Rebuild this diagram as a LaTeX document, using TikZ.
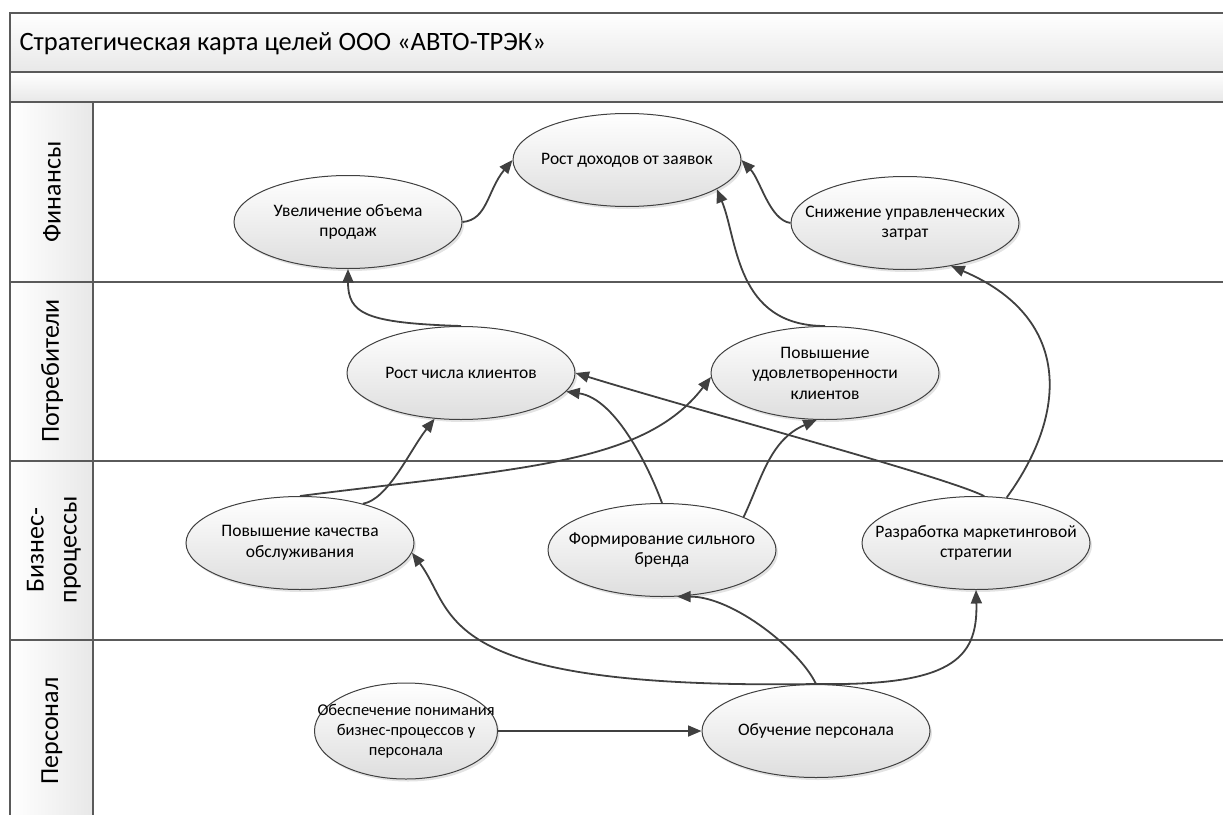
\documentclass[tikz,border=0pt]{standalone}
\usepackage{fontspec}
\setmainfont{Carlito}
\usetikzlibrary{arrows.meta,shapes.geometric,shadows}
\definecolor{framegray}{HTML}{5A5A5A}
\definecolor{edgegray}{HTML}{404040}
\definecolor{bandgray}{HTML}{E8E8E8}
\definecolor{goalgray}{HTML}{DEDEDE}
\tikzset{
  goal/.style={ellipse, draw=edgegray, line width=1pt,
    top color=white, bottom color=goalgray,
    minimum width=228pt, minimum height=93pt,
    inner xsep=-50pt, inner ysep=-10pt, align=center,
    font=\fontsize{17.5}{20.5}\selectfont,
    drop shadow={shadow xshift=2pt, shadow yshift=-2.5pt, opacity=0.22}},
  link/.style={draw=edgegray, line width=1.8pt,
    -{Triangle[length=13.5pt,width=11pt]}},
  lanelabel/.style={rotate=90, align=center,
    font=\fontsize{26}{33}\selectfont},
  frameline/.style={draw=framegray, line width=1.6pt},
}
\begin{document}
\begin{tikzpicture}[x=1pt,y=-1pt]
\useasboundingbox (0,0) rectangle (1223,814);
\clip (0,0) rectangle (1223,814);

% header bands
\shade[top color=white, bottom color=bandgray] (10,13) rectangle (1230,72);
\shade[top color=white, bottom color=bandgray] (10,72) rectangle (1230,102);

% lane header cells
\foreach \ya/\yb in {102/282, 282/461, 461/640, 640/820}
  \shade[left color=white, right color=bandgray] (10,\ya) rectangle (93,\yb);

% frame and lane separators
\draw[frameline] (1230,13) -- (10,13) -- (10,820);
\draw[frameline] (10,72) -- (1230,72);
\draw[frameline] (10,102) -- (1230,102);
\draw[frameline] (93,102) -- (93,820);
\foreach \y in {282,461,640}
  \draw[frameline] (10,\y) -- (1230,\y);

% title and lane names
\node[anchor=west, font=\fontsize{26.5}{31}\selectfont] (title) at (16,44)
  {Стратегическая карта целей ООО «АВТО-ТРЭК»};
\node[lanelabel] (lfin)  at (52,192) {Финансы};
\node[lanelabel] (lcust) at (52,371) {Потребители};
\node[lanelabel] (lproc) at (54,550) {Бизнес-\\процессы};
\node[lanelabel] (lstaff) at (52,731) {Персонал};

% goals
\node[goal] (rev)   at (627,160) {Рост доходов от заявок};
\node[goal] (prod)  at (348,222) {Увеличение объема\\продаж};
\node[goal] (cost)  at (905,223) {Снижение управленческих\\затрат};
\node[goal] (cli)   at (461,373) {Рост числа клиентов};
\node[goal] (sat)   at (825,373) {Повышение\\удовлетворенности\\клиентов};
\node[goal] (qual)  at (300,543) {Повышение качества\\обслуживания};
\node[goal] (brand) at (662,550) {Формирование сильного\\бренда};
\node[goal] (strat) at (976,543) {Разработка маркетинговой\\стратегии};
\node[goal, minimum width=183pt, minimum height=96pt,
      font=\fontsize{16.5}{20}\selectfont] (know) at (406,731)
  {Обеспечение понимания\\бизнес-процессов у\\персонала};
\node[goal] (train) at (816,731) {Обучение персонала};

% cause-and-effect links
\draw[link] (prod.east) .. controls +(25,-2) and +(-25,30) .. (rev.west);
\draw[link] (cost.west) .. controls +(-21,-3) and +(19,20) .. (rev.east);
\draw[link] (sat.north) .. controls +(-90,0) and +(21,50) .. (rev.-18);
\draw[link] (cli.north) .. controls +(-95,-3) and +(0,45) .. (prod.south);
\draw[link] (strat.56) .. controls +(64,-88) and +(118,50) .. (cost.-43);
\draw[link] (strat.80) .. controls +(-40,-20) and +(130,40) .. (cli.east);
\draw[link] (brand.north) .. controls +(-12,-33) and +(50,7) .. (cli.-10);
\draw[link] (brand.22) .. controls +(18,-38) and +(-47,20) .. (sat.-100);
\draw[link] (qual.32) .. controls +(25,-4) and +(-25,32) .. (cli.-120);
\draw[link] (qual.north) .. controls +(220,-28) and +(-67,88) .. (sat.182);
\draw[link] (train.north) .. controls +(-386,6) and +(45,60) .. (qual.-5);
\draw[link] (train.north) .. controls +(-16,-34) and +(56,0) .. (brand.-72);
\draw[link] (train.north) .. controls +(134,2) and +(2,70) .. (strat.south);
\draw[link] (know.east) -- (train.west);
\end{tikzpicture}
\end{document}
